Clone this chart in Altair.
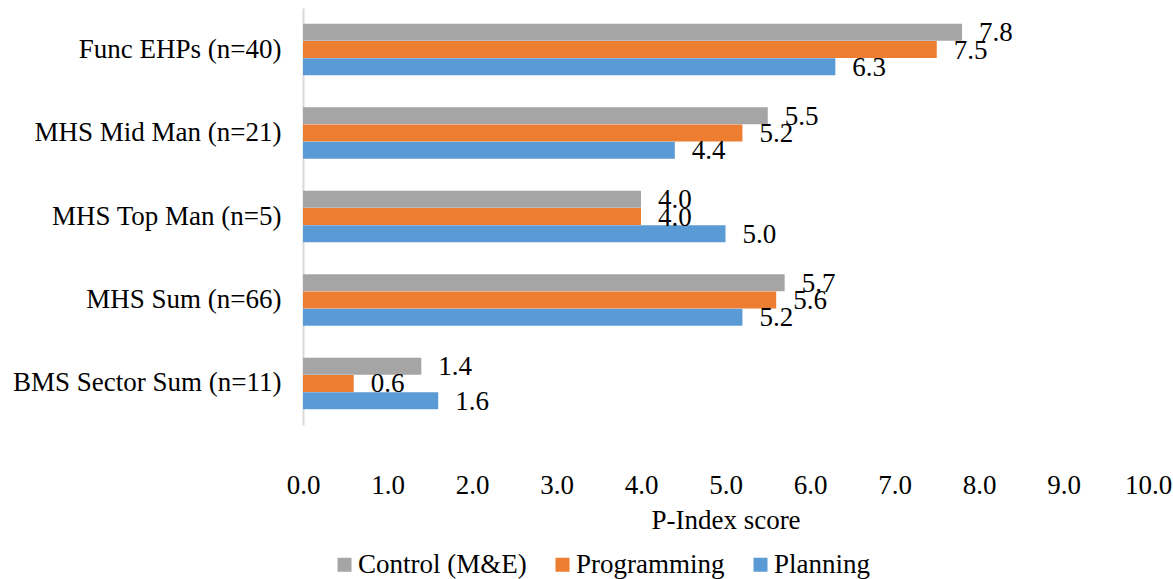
import altair as alt
import pandas as pd

# Groups (top to bottom) and series
groups = [
    "Func EHPs (n=40)",
    "MHS Mid Man (n=21)",
    "MHS Top Man (n=5)",
    "MHS Sum (n=66)",
    "BMS Sector Sum (n=11)",
]
series = ["Control (M&E)", "Programming", "Planning"]
colors = ["#a5a5a5", "#ed7d31", "#5b9bd5"]

control_me = [7.8, 5.5, 4.0, 5.7, 1.4]
programming = [7.5, 5.2, 4.0, 5.6, 0.6]
planning = [6.3, 4.4, 5.0, 5.2, 1.6]

x_ticks = [0, 1, 2, 3, 4, 5, 6, 7, 8, 9, 10]

rows = []
for name, vals in zip(series, [control_me, programming, planning]):
    for g, v in zip(groups, vals):
        rows.append({"group": g, "series": name, "score": v})
df = pd.DataFrame(rows)

FONT = "Liberation Serif, Times New Roman, serif"
FS = 27

y_enc = alt.Y(
    "group:N",
    sort=groups,
    scale=alt.Scale(paddingInner=0.385, paddingOuter=0.19),
    axis=alt.Axis(
        title=None,
        ticks=False,
        domainColor="#d9d9d9",
        domainWidth=2,
        labelFont=FONT,
        labelFontSize=FS,
        labelColor="#000000",
        labelPadding=22,
        labelLimit=400,
    ),
)
yoff_enc = alt.YOffset("series:N", sort=series, scale=alt.Scale(paddingInner=0.02))
x_enc = alt.X(
    "score:Q",
    scale=alt.Scale(domain=[0, 10], nice=False),
    axis=alt.Axis(
        title="P-Index score",
        values=x_ticks,
        format=".1f",
        grid=False,
        ticks=False,
        domain=False,
        labelFlush=False,
        labelFont=FONT,
        labelFontSize=FS,
        labelColor="#000000",
        labelPadding=47,
        titleFont=FONT,
        titleFontSize=FS,
        titleFontWeight="normal",
        titleColor="#000000",
        titlePadding=9,
    ),
)

bars = alt.Chart(df).mark_bar().encode(
    y=y_enc,
    yOffset=yoff_enc,
    x=x_enc,
    color=alt.Color(
        "series:N",
        sort=series,
        scale=alt.Scale(domain=series, range=colors),
        legend=alt.Legend(
            title=None,
            orient="none",
            direction="horizontal",
            legendX=28,
            legendY=543,
            padding=0,
            symbolType="square",
            symbolSize=196,
            symbolStrokeWidth=0,
            labelFont=FONT,
            labelFontSize=FS,
            labelColor="#000000",
            labelLimit=400,
            columnPadding=22,
            labelOffset=0,
        ),
    ),
)

labels = alt.Chart(df).mark_text(
    align="left", baseline="middle", dx=17, dy=1, font=FONT, fontSize=FS, color="#000000"
).encode(
    y=alt.Y("group:N", sort=groups),
    yOffset=alt.YOffset("series:N", sort=series),
    x=alt.X("score:Q"),
    text=alt.Text("score:Q", format=".1f"),
)

chart = (
    alt.layer(bars, labels)
    .properties(
        width=845,
        height=417,
        autosize=alt.AutoSizeParams(type="none"),
        padding={"left": 303, "top": 8, "right": 25, "bottom": 154},
        view=alt.ViewBackground(stroke="transparent", strokeWidth=0),
    )
    .configure_view(strokeWidth=0, stroke="transparent")
    .configure(background="#ffffff")
)

chart.save("out.html", embed_options={"renderer": "svg", "actions": False})
